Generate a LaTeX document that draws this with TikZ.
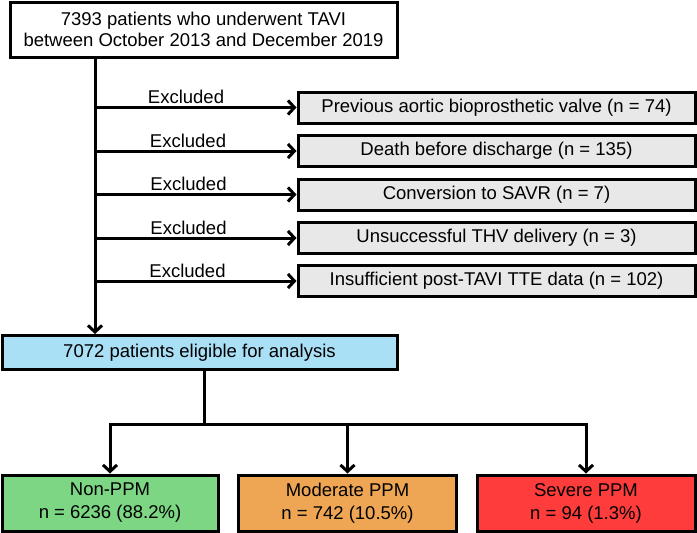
\documentclass[tikz,border=0pt]{standalone}
\usepackage{fontspec}
\setmainfont{Liberation Sans}
\usetikzlibrary{arrows.meta}
\definecolor{greybox}{RGB}{232,232,232}
\definecolor{bluebox}{RGB}{170,224,246}
\definecolor{greenbox}{RGB}{124,214,132}
\definecolor{orangebox}{RGB}{238,166,84}
\definecolor{redbox}{RGB}{255,60,60}
\tikzset{
  box/.style={draw=black, line width=3pt, rectangle, inner sep=0pt, align=center,
    font=\fontsize{18.5}{20.5}\selectfont},
  exbox/.style={box, fill=greybox, minimum width=397pt, minimum height=31pt},
  grpbox/.style={box, minimum height=56pt, font=\fontsize{18.5}{23}\selectfont},
  conn/.style={line width=3pt},
  arr/.style={conn, -{Straight Barb[length=6.5pt,width=14pt,line width=3pt]}},
  exlabel/.style={anchor=base, inner sep=0pt, font=\fontsize{18.5}{20}\selectfont}
}
\begin{document}
\begin{tikzpicture}[x=1pt,y=-1pt]
\useasboundingbox (0,0) rectangle (697,533);
\node[box, fill=white, minimum width=387pt, minimum height=55pt] (top) at (203.5,29.5)
  {7393 patients who underwent TAVI\\between October 2013 and December 2019};
\node[exbox] (ex1) at (496.5,107.5) {Previous aortic bioprosthetic valve (n = 74)};
\node[exbox] (ex2) at (496.5,151) {Death before discharge (n = 135)};
\node[exbox] (ex3) at (496.5,194.5) {Conversion to SAVR (n = 7)};
\node[exbox] (ex4) at (496.5,238) {Unsuccessful THV delivery (n = 3)};
\node[exbox] (ex5) at (496.5,281) {Insufficient post-TAVI TTE data (n = 102)};
\node[box, fill=bluebox, minimum width=395pt, minimum height=34pt] (elig) at (199.5,352.5)
  {7072 patients eligible for analysis};
\node[grpbox, fill=greenbox, minimum width=216pt] (g1) at (110,503) {Non-PPM\\n = 6236 (88.2\%)};
\node[grpbox, fill=orangebox, minimum width=218pt] (g2) at (347.5,503) {Moderate PPM\\n = 742 (10.5\%)};
\node[grpbox, fill=redbox, minimum width=218pt] (g3) at (586,503) {Severe PPM\\n = 94 (1.3\%)};
\coordinate (ax) at (95,0);
\coordinate (split) at (204,424);
\draw[arr] (top.south -| ax) -- (elig.north -| ax);
\foreach \b/\lx in {ex1/186,ex2/188,ex3/188.5,ex4/188.5,ex5/187.5}{
  \draw[arr] (ax |- \b.west) -- (\b.west);
  \node[exlabel] at ([yshift=4pt]\lx,0 |- \b.west) {Excluded};
}
\draw[conn] (elig.south -| split) -- (split);
\draw[arr] (split) -| (g1.north);
\draw[arr] (split) -| (g3.north);
\draw[arr] (split -| g2.north) -- (g2.north);
\end{tikzpicture}
\end{document}
